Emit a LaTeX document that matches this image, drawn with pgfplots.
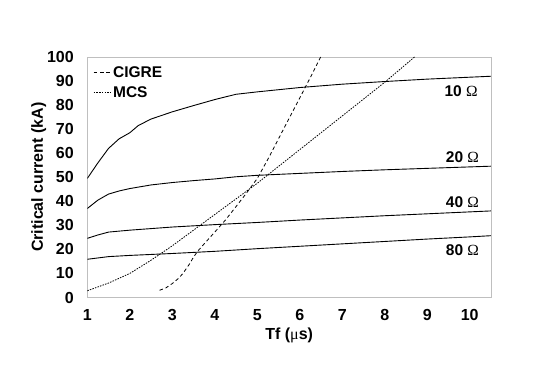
\documentclass[border=0pt]{standalone}
\usepackage{pgfplots}
\pgfplotsset{compat=1.18}
\usepackage{fontspec}
\setmainfont{Liberation Sans}
\newfontfamily\symf{Liberation Serif}
\begin{document}
\begin{tikzpicture}[x=1pt,y=1pt]
\useasboundingbox (-87.3,-82.5) rectangle (450.7,297.5);
\begin{axis}[
  at={(0,0)}, anchor=south west,
  width=403.7pt, height=240.5pt, scale only axis,
  xmin=1, xmax=10.5, ymin=0, ymax=100,
  xtick={1,...,10}, ytick={0,10,...,100},
  major tick length=0pt,
  axis line style={black!25, line width=0.9pt},
  /pgf/number format/assume math mode=true,
  ticklabel style={font=\fontsize{16}{18}\selectfont\bfseries},
  xticklabel style={yshift=-8pt},
  yticklabel style={xshift=-10pt},
  xlabel={\fontsize{16}{18}\selectfont\bfseries Tf ({\symf\mdseries μ}s)},
  ylabel={\fontsize{16}{18}\selectfont\bfseries Critical current (kA)},
  xlabel style={yshift=-1pt},
  ylabel style={yshift=-6pt},
  legend style={at={(0.012,0.975)}, anchor=north west, draw=none, fill=none,
    font=\fontsize{15.5}{17}\selectfont\bfseries, row sep=4pt,
    inner sep=1pt},
  legend cell align=left,
  legend image code/.code={\draw[#1] (0pt,0pt) -- (17pt,0pt);},
]
% 10 ohm
\addplot[black, line width=0.9pt, forget plot] coordinates {
(1,49.5)(1.25,56)(1.5,62)(1.75,66)(2,68.5)(2.2,71.5)(2.5,74.2)(3,77.2)(3.5,79.8)(4,82.3)(4.5,84.5)(5,85.5)(6,87.3)(7,88.7)(8,89.8)(9,90.8)(10,91.6)(10.5,92)};
% 20 ohm
\addplot[black, line width=0.9pt, forget plot] coordinates {
(1,37)(1.25,40.5)(1.5,43)(1.75,44.3)(2,45.3)(2.5,46.8)(3,47.8)(3.5,48.6)(4,49.3)(4.5,50.2)(5,50.8)(6,51.6)(7,52.4)(8,53.1)(9,53.7)(10,54.3)(10.5,54.6)};
% 40 ohm
\addplot[black, line width=0.9pt, forget plot] coordinates {
(1,24.6)(1.25,26)(1.5,27.2)(2,28)(3,29.3)(4,30.3)(5,31.2)(6,32.2)(7,33.1)(8,34)(9,34.8)(10,35.6)(10.5,36)};
% 80 ohm
\addplot[black, line width=0.9pt, forget plot] coordinates {
(1,15.9)(1.5,17)(2,17.5)(3,18.3)(4,19.2)(5,20.3)(6,21.3)(7,22.3)(8,23.3)(9,24.3)(10,25.2)(10.5,25.7)};
% CIGRE
\addplot[black, line width=0.8pt, dash pattern=on 3.5pt off 2.8pt] coordinates {
(2.7,3)(2.85,4)(3,5.8)(3.15,8)(3.25,10)(3.4,13.8)(3.5,16.8)(3.6,19.3)(3.75,22.3)(4,27.2)(4.25,32.2)(4.5,37.8)(4.75,43.5)(5,49.5)(5.25,57.5)(5.5,66)(5.75,74.5)(6,83)(6.25,91.5)(6.49,100)};
\addlegendentry{CIGRE}
% MCS
\addplot[black, line width=0.8pt, dash pattern=on 1.5pt off 1.2pt] coordinates {
(1,2.8)(1.5,6)(2,10)(2.5,15.5)(3,21.5)(3.5,28)(4,34.5)(4.5,41)(5,47.5)(5.5,54.5)(6,61.5)(6.5,68.5)(7,75.5)(7.5,82.5)(8,89.5)(8.5,97)(8.7,100)};
\addlegendentry{MCS}
\node[anchor=east, font=\fontsize{15.5}{17}\selectfont\bfseries] at (axis cs:10.27,85.9) {10 {\symf\mdseries Ω}};
\node[anchor=east, font=\fontsize{15.5}{17}\selectfont\bfseries] at (axis cs:10.3,58.2) {20 {\symf\mdseries Ω}};
\node[anchor=east, font=\fontsize{15.5}{17}\selectfont\bfseries] at (axis cs:10.3,39.5) {40 {\symf\mdseries Ω}};
\node[anchor=east, font=\fontsize{15.5}{17}\selectfont\bfseries] at (axis cs:10.3,19.7) {80 {\symf\mdseries Ω}};
\end{axis}
\end{tikzpicture}
\end{document}
